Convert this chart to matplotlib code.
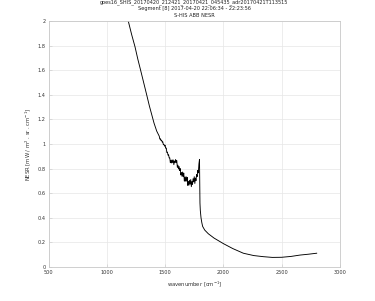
import matplotlib
matplotlib.use('Agg')
import matplotlib.pyplot as plt

# wavenumber [cm-1] and NESR values
wn_top = [1184, 1213, 1242, 1266, 1290, 1316, 1342, 1365, 1385, 1405, 1428]
nesr_top = [2.0, 1.89, 1.79, 1.69, 1.60, 1.50, 1.40, 1.31, 1.24, 1.17, 1.105]

wn_noisy = [1450, 1455, 1460, 1465, 1470, 1475, 1480, 1485, 1490, 1495,
            1500, 1505, 1510, 1515, 1520, 1525, 1530, 1535, 1540, 1545,
            1550, 1555, 1560, 1565, 1570, 1575, 1580, 1585, 1590, 1595,
            1600, 1605, 1610, 1615, 1620, 1625, 1630, 1635, 1640, 1645,
            1650, 1655, 1660, 1665, 1670, 1675, 1680, 1685, 1690, 1695,
            1700, 1705, 1710, 1715, 1720, 1725, 1730, 1735, 1740, 1745,
            1750, 1755, 1760, 1765, 1770, 1775, 1780, 1785, 1790, 1795]
nesr_noisy = [1.063, 1.040, 1.042, 1.028, 1.031, 1.016, 1.018, 0.995, 0.997, 0.983,
              0.990, 0.966, 0.967, 0.931, 0.934, 0.909, 0.912, 0.887, 0.887, 0.848,
              0.868, 0.846, 0.871, 0.848, 0.870, 0.832, 0.862, 0.848, 0.874, 0.848,
              0.865, 0.811, 0.828, 0.797, 0.817, 0.784, 0.800, 0.748, 0.769, 0.737,
              0.772, 0.735, 0.764, 0.698, 0.731, 0.698, 0.734, 0.698, 0.728, 0.663,
              0.697, 0.666, 0.705, 0.674, 0.711, 0.653, 0.695, 0.672, 0.718, 0.693,
              0.734, 0.679, 0.723, 0.702, 0.751, 0.735, 0.785, 0.765, 0.838, 0.875]

wn_tail = [1797, 1799, 1802, 1808, 1815, 1822, 1840, 1871, 1920, 2000,
           2080, 2171, 2260, 2342, 2420, 2500, 2580, 2657, 2730, 2800]
nesr_tail = [0.70, 0.52, 0.46, 0.40, 0.36, 0.33, 0.30, 0.27, 0.235, 0.19,
             0.15, 0.112, 0.093, 0.084, 0.078, 0.079, 0.086, 0.097, 0.104, 0.112]

title_lines = ['goes16_SHIS_20170420_212421_20170421_045435_adr20170421T113515',
               'Segment [8] 2017-04-20 22:06:34 - 22:23:56',
               'S-HIS ABB NESR']

wn = wn_top + wn_noisy + wn_tail
nesr = nesr_top + nesr_noisy + nesr_tail

fig = plt.figure(figsize=(3.75, 3.01), dpi=100)
ax = fig.add_axes([48.5/375, 1-267/301, (340-48.5)/375, (267-21)/301])

ax.plot(wn, nesr, color='black', linewidth=0.65)

ax.set_xlim(500, 3000)
ax.set_ylim(0, 2)
ax.set_xticks([500, 1000, 1500, 2000, 2500, 3000])
ax.set_yticks([0, 0.2, 0.4, 0.6, 0.8, 1, 1.2, 1.4, 1.6, 1.8, 2])
ax.set_yticklabels(['0', '0.2', '0.4', '0.6', '0.8', '1', '1.2', '1.4', '1.6', '1.8', '2'])
ax.grid(True, color='#e6e6e6', linewidth=0.5)
ax.set_axisbelow(True)
for s in ax.spines.values():
    s.set_color('#c8c8c8')
    s.set_linewidth(0.6)
ax.tick_params(direction='in', length=2, width=0.4, color='#c8c8c8',
               labelsize=3.6, labelcolor='#333333', pad=2)

ax.set_xlabel('wavenumber [cm$^{-1}$]', fontsize=3.8, color='#333333', labelpad=3)
ax.set_ylabel('NESR [mW / m$^{2}$ . sr . cm$^{-1}$]', fontsize=3.8, color='#333333', labelpad=3)
ax.set_title('\n'.join(title_lines), fontsize=3.6, color='#222222', pad=3, linespacing=1.4)

fig.savefig('out.png', dpi=100)
